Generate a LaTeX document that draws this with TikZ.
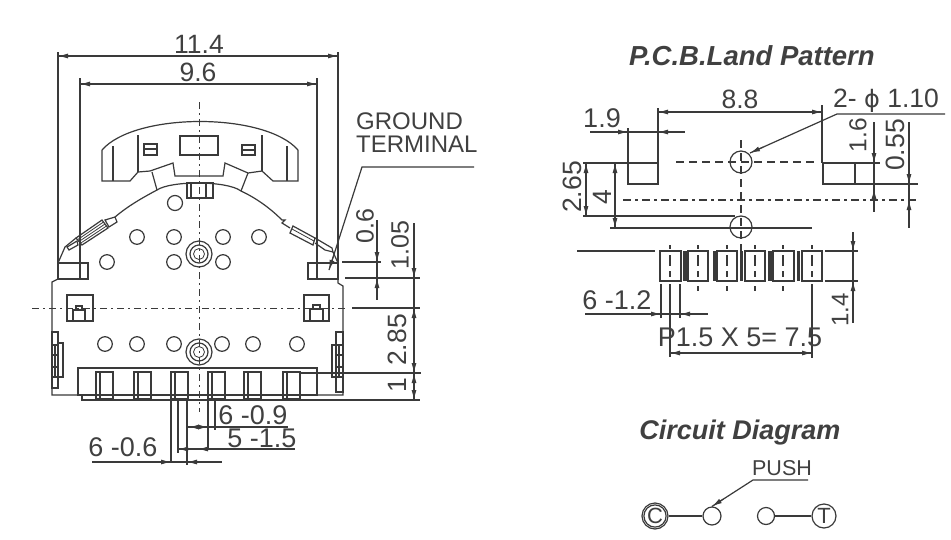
\documentclass[tikz,border=0pt]{standalone}
\usepackage{fontspec}
\setmainfont{Liberation Sans}
\usetikzlibrary{arrows.meta,calc}
\definecolor{ink}{HTML}{3A3A3A}
\definecolor{txt}{HTML}{404040}
\newcommand{\fs}[1]{\fontsize{#1}{#1}\selectfont}
\tikzset{
  ln/.style={draw=ink,line width=1.2pt,line join=miter},
  thin part/.style={draw=ink,line width=.8pt},
  thick part/.style={draw=ink,line width=1.5pt},
  ctr/.style={draw=ink,line width=1pt,dash pattern=on 7pt off 4pt on 2pt off 4pt},
  dsh/.style={draw=ink,line width=1.1pt,dash pattern=on 8pt off 5pt},
  ah/.style={draw=ink,line width=1.1pt,-{Latex[length=10pt,width=5pt,color=ink]}},
  lbl/.style={inner sep=0pt,text=txt,font=\fs{26.5}},
  vlbl/.style={lbl,rotate=90},
  title/.style={inner sep=0pt,text=txt,font=\fs{27.5}\bfseries\itshape},
}
\begin{document}
\begin{tikzpicture}[x=1pt,y=-1pt]
\useasboundingbox (0,0) rectangle (951,539);
\fill[white] (0,0) rectangle (951,539);

% ------------- left view: centre lines
\draw[ctr] (199,102) -- (199,412);
\draw[ctr] (32,308) -- (345,308);

% upper lever
\draw[ln] (102,150) .. controls (135,112) and (265,112) .. (298,150);
\draw[ln] (102,150) -- (102,181) -- (130,181) -- (138,172) -- (150,171) -- (173,163) -- (175,176) -- (223,176) -- (225,163) -- (248,173) -- (262,171) -- (273,181) -- (298,181) -- (298,150);
\draw[ln] (113,146) -- (113,181);
\draw[ln] (287,146) -- (287,181);
\draw[ln] (138,135) -- (138,172);
\draw[ln] (262,135) -- (262,171);
\draw[ln] (144,144) rectangle (157,155);
\draw[ln] (144,149) -- (157,149);
\draw[ln] (242,145) rectangle (255,155);
\draw[ln] (242,150) -- (255,150);
\draw[ln] (180,136) rectangle (218,155);
\draw[ln] (152,172) -- (157,190);
\draw[ln] (248,173) -- (241,191);

% body arc
\draw[ln] (157,190) .. controls (171,180.5) and (227,180.5) .. (241,191);
\draw[ln] (115,217) .. controls (128,206) and (142,198) .. (157,190);
\draw[ln] (241,191) .. controls (256,198) and (270,208) .. (282,220) -- (285,220) -- (282,223) -- (290,228);
\draw[ln] (187,183) rectangle (213,198);
\draw[ln] (191,183) -- (191,198);
\draw[ln] (206,183) -- (206,198);
\draw[ln] (175,203) circle[radius=7.5pt];

% left arm
\draw[ln] (105,220) -- (115,217) -- (117,222) -- (109,227) -- cycle;
\draw[ln] (76,238) -- (102,220) -- (108,228) -- (82,245) -- cycle;
\foreach \k in {0.25,0.5,0.75}
  \draw[thin part] ($(76,238)!\k!(82,245)$) -- ($(102,220)!\k!(108,228)$);
\draw[ln] (76,238) -- (65,247) -- (58,263);
\draw[ln] (67,247) -- (77,241) -- (78,245) -- (69,250) -- cycle;
\draw[ln] (58,263) rectangle (88,279);
% right arm
\draw[ln] (293,226) -- (315,238) -- (313,245) -- (290,233) -- cycle;
\draw[thin part] (292,229) -- (314,241);
\draw[ln] (315,238) -- (332,248) -- (333,252) -- (325,250) -- (315,243);
\draw[ln] (333,252) -- (338,263);
\draw[ln] (308,263) rectangle (338,279);

% dots
\foreach \x/\y in {137/237,174/237,223/237,259/237,107/262,174/262,223/262,
                   105/344,137/344,174/344,222/344,253/344,297/344}
  \draw[ln] (\x,\y) circle[radius=7.3pt];
\foreach \y in {254,352}{
  \draw[ln] (199,\y) circle[radius=13pt];
  \draw[ln] (199,\y) circle[radius=9pt];
  \draw[thin part] (199,\y) circle[radius=5.5pt];
}

% body
\draw[ln] (58,279) -- (52,282) -- (52,395) -- (343,395) -- (343,286) -- (338,283) -- (338,279);
\draw[ln] (67,295) rectangle (93,321);
\draw[ln] (73,310) rectangle (85,321);
\draw[ln] (76,310) -- (76,306) -- (82,306) -- (82,310);
\draw[ln] (304,295) rectangle (329,321);
\draw[ln] (310,309) rectangle (323,321);
\draw[ln] (313,309) -- (313,305) -- (320,305) -- (320,309);
% side clips
\draw[ln] (52,332) rectangle (58,388);
\draw[ln] (58,343) rectangle (63,377);
\foreach \y in {345,355,367,377} \draw[thick part] (52,\y) -- (58,\y);
\draw[thick part] (55,345) -- (55,377);
\draw[ln] (336,332) rectangle (343,392);
\draw[ln] (332,345) rectangle (336,377);
\foreach \y in {345,355,367,377} \draw[thick part] (336,\y) -- (343,\y);
\draw[thick part] (339,345) -- (339,377);

% bottom connector
\draw[ln] (78,368) rectangle (317,395);
\draw[ln] (82,395) -- (82,400) -- (420,400);
\foreach \a in {96,134,171,208,244,283}{
  \draw[ln] (\a,372) rectangle ++(17,27);
  \draw[ln] (\a+4,372) -- (\a+4,399);
}
\draw[ln] (300,373) -- (421,373);

% left: top dimensions
\draw[ln] (58,52) -- (58,263);
\draw[ln] (338,52) -- (338,263);
\draw[ln] (80,78) -- (80,279);
\draw[ln] (317,78) -- (317,279);
\draw[ln] (58,56) -- (338,56);
\draw[ln] (80,84) -- (317,84);
\draw[ah] (75,56) -- (58,56);
\draw[ah] (320,56) -- (338,56);
\draw[ah] (97,84) -- (80,84);
\draw[ah] (300,84) -- (317,84);
\node[lbl] (d114) at (199,44) {11.4};
\node[lbl] (d96) at (198,72) {9.6};

% ground terminal
\node[lbl,anchor=west,font=\fs{24}] (g1) at (356,121) {GROUND};
\node[lbl,anchor=west,font=\fs{24}] (g2) at (356,144) {TERMINAL};
\coordinate (gk) at (362,167);
\coordinate (gend) at (474,167);
\coordinate (gtip) at (329,270);
\draw[ln] (gend) -- (gk) -- (gtip);
\draw[ah] ($(gk)!0.85!(gtip)$) -- (gtip);

% right dims
\draw[ln] (342,262) -- (381,262);
\draw[ln] (345,278) -- (420,278);
\draw[ln] (352,308) -- (420,308);
\draw[ln] (377,220) -- (377,300);
\draw[ln] (414,223) -- (414,400);
\draw[ah] (377,250) -- (377,262);
\draw[ah] (377,290) -- (377,278);
\draw[ah] (414,268) -- (414,278);
\draw[ah] (414,322) -- (414,308);
\draw[ah] (414,361) -- (414,373);
\draw[ah] (414,385) -- (414,373);
\draw[ah] (414,388) -- (414,400);
\node[vlbl,font=\fs{25}] (d06) at (365,226) {0.6};
\node[vlbl,font=\fs{25}] (d105) at (400,245) {1.05};
\node[vlbl] (d285) at (397,340) {2.85};
\node[vlbl] (d1) at (397,385) {1};

% bottom dims
\draw[ln] (171,400) -- (171,463);
\draw[ln] (178,400) -- (178,453);
\draw[ln] (187,400) -- (187,465);
\draw[ln] (208,400) -- (208,450);
\draw[ln] (215,400) -- (215,430);
\draw[ln] (187,427) -- (288,427);
\draw[ln] (178,449) -- (295,449);
\draw[ln] (92,462) -- (222,462);
\draw[ah] (194,427) -- (208,427);
\draw[ah] (201,427) -- (189,427);
\draw[ah] (194,449) -- (178,449);
\draw[ah] (208,449) -- (198,449);
\draw[ah] (156,462) -- (171,462);
\draw[ah] (203,462) -- (187,462);
\node[lbl,font=\fs{27}] (d609) at (253,415) {6 -0.9};
\node[lbl,font=\fs{27}] (d515) at (262,438) {5 -1.5};
\node[lbl,font=\fs{27}] (d606) at (123,447) {6 -0.6};

% ------------- land pattern
\node[title] (tland) at (752,56) {P.C.B.Land Pattern};
\draw[ln] (628,163) rectangle (658,184);
\draw[ln] (823,163) rectangle (855,184);
\draw[ln] (658,108) -- (658,163);
\draw[ln] (822,105) -- (822,163);
\draw[ln] (628,128) -- (628,163);
\draw[ln] (583,163) -- (628,163);
\draw[ln] (855,163) -- (880,163);
\draw[ln] (855,184) -- (918,184);
\draw[ln] (658,112) -- (822,112);
\draw[ln] (590,132) -- (685,132);
\draw[ah] (672,112) -- (658,112);
\draw[ah] (808,112) -- (822,112);
\draw[ah] (613,132) -- (628,132);
\draw[ah] (672,132) -- (658,132);
\node[lbl] (d88) at (740,99) {8.8};
\node[lbl,font=\fs{27}] (d19) at (602,118) {1.9};

\draw[ln] (741,162) circle[radius=11pt];
\draw[ln] (741,227) circle[radius=11pt];
\draw[dsh] (676,162) -- (815,162);
\draw[dsh,dash pattern=on 8pt off 4pt on 3pt off 4pt] (623,200) -- (917,200);
\draw[dsh] (741,140) -- (741,245);
\draw[ln] (583,216) -- (735,216);
\draw[ln] (610,228) -- (812,228);
\draw[ln] (586,163) -- (586,216);
\draw[ln] (615,163) -- (615,228);
\draw[ah] (586,178) -- (586,163);
\draw[ah] (586,202) -- (586,216);
\draw[ah] (615,178) -- (615,163);
\draw[ah] (615,213) -- (615,228);
\node[vlbl] (d265) at (572,187) {2.65};
\node[vlbl] (d4) at (602,197) {4};

\draw[ln] (874,122) -- (874,212);
\draw[ln] (909,122) -- (909,228);
\draw[ah] (874,150) -- (874,163);
\draw[ah] (874,200) -- (874,189);
\draw[ah] (909,172) -- (909,184);
\draw[ah] (909,215) -- (909,200);
\node[vlbl,font=\fs{24.5}] (d16) at (858,135) {1.6};
\node[vlbl] (d055) at (895,145) {0.55};

\node[lbl,anchor=west] (dphi) at (833,101) {2- {\fontspec{DejaVu Sans}\fs{24}ϕ} 1.10};
\coordinate (pk) at (837,114);
\coordinate (pend) at (945,114);
\coordinate (ptip) at (750,153);
\draw[ln] (pend) -- (pk) -- (ptip);
\draw[ah] ($(pk)!0.85!(ptip)$) -- (ptip);

% pad row
\draw[ln] (577,251) -- (655,251);
\draw[ln] (825,251) -- (858,251);
\draw[ln] (825,281) -- (858,281);
\foreach \a/\b in {660/681,688/708,717/737,745/765,773/794,802/822}
  \draw[ln] (\a,251) rectangle (\b,281);
\foreach \a/\b in {683/687,713/716,740/743,768/772,797/800}{
  \fill[ink] (\a,251) rectangle (\b,281);
}
\foreach \x in {670,698,727,755,783,812}{
  \draw[ln] (\x,245) -- (\x,249);
  \draw[ln] (\x,255) -- (\x,266);
  \draw[ln] (\x,271) -- (\x,277);
}
\foreach \x in {698,727,755,783}
  \draw[ln] (\x,286) -- (\x,291);
\draw[ln] (741,245) -- (741,251);
\draw[ln] (670,284) -- (670,357);
\draw[ln] (812,284) -- (812,358);
\draw[ln] (661,284) -- (661,318);
\draw[ln] (680,284) -- (680,318);
\draw[ln] (585,314) -- (708,314);
\draw[ah] (646,314) -- (661,314);
\draw[ah] (695,314) -- (680,314);
\draw[ln] (670,353) -- (812,353);
\draw[ah] (685,353) -- (670,353);
\draw[ah] (797,353) -- (812,353);
\node[lbl,font=\fs{27}] (d612) at (617,300) {6 -1.2};
\node[lbl,font=\fs{27}] (dp) at (740,337) {P1.5 X 5= 7.5};
\draw[ln] (853,232) -- (853,323);
\draw[ah] (853,239) -- (853,251);
\draw[ah] (853,295) -- (853,281);
\node[vlbl,font=\fs{24}] (d14) at (840,310) {1.4};

% ------------- circuit
\node[title,font=\fs{27}\bfseries\itshape] (tcirc) at (740,433) {Circuit Diagram};
\node[lbl,font=\fs{21.5}] (tpush) at (782,468) {PUSH};
\coordinate (pu1) at (808,480);
\coordinate (pu2) at (753,480);
\node[draw=ink,line width=1.2pt,circle,minimum size=26pt,inner sep=0pt] (cc) at (655,516) {};
\node[draw=ink,line width=1.2pt,circle,minimum size=20pt,inner sep=0pt,text=txt,font=\fs{22}] (cc2) at (655,516) {C};
\node[draw=ink,line width=1.2pt,circle,minimum size=18pt,inner sep=0pt] (c1) at (712,516) {};
\node[draw=ink,line width=1.2pt,circle,minimum size=17pt,inner sep=0pt] (c2) at (766,516) {};
\node[draw=ink,line width=1.2pt,circle,minimum size=24pt,inner sep=0pt,text=txt,font=\fs{22}] (ct) at (824,516) {T};
\draw[ln] (cc) -- (c1);
\draw[ln] (c2) -- (ct);
\draw[ln] (pu1) -- (pu2) -- (c1.north);
\draw[ah] ($(pu2)!0.72!(c1.north)$) -- (c1.north);
\end{tikzpicture}
\end{document}
